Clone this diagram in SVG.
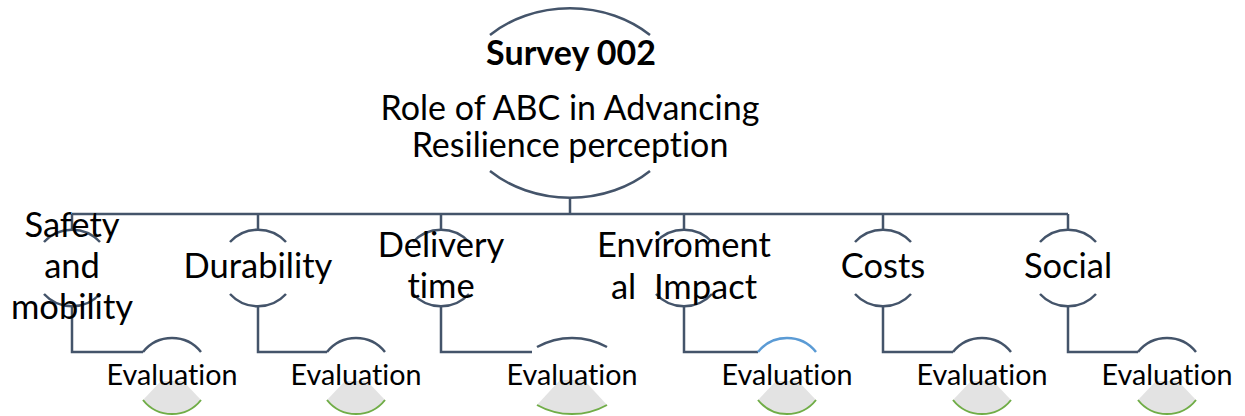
<svg xmlns="http://www.w3.org/2000/svg" width="1245" height="416" viewBox="0 0 1245 416">
  <style>
    .ln { fill: none; stroke: #44546a; stroke-width: 2.5; }
    .arc { fill: none; stroke: #44546a; stroke-width: 2.5; }
    .arcb { fill: none; stroke: #5b9bd5; stroke-width: 2.5; }
    .wedge { fill: #e3e3e3; stroke: none; }
    .rim { fill: none; stroke: #70ad47; stroke-width: 2; }
    text { font-family: Lato, "Liberation Sans", sans-serif; fill: #000; text-anchor: middle;
           font-variant-ligatures: none; font-feature-settings: "liga" 0, "clig" 0; }
    .ttl { font-size: 34px; font-weight: bold; }
    .sub { font-size: 34px; }
    .lbl { font-size: 34.5px; }
    .ev { font-size: 28.7px; }
  </style>

  <!-- connectors -->
  <g id="connectors">
    <path class="ln" d="M570,197 V214 M72,214 H1068"/>
    <path class="ln" d="M72,214 V230 M72,306 V352 H143"/>
    <path class="ln" d="M258,214 V230 M258,306 V352 H327"/>
    <path class="ln" d="M441,214 V230 M441,306 V352 H532"/>
    <path class="ln" d="M684,214 V230 M684,306 V352 H758"/>
    <path class="ln" d="M883,214 V230 M883,306 V352 H953"/>
    <path class="ln" d="M1068,214 V230 M1068,306 V352 H1138"/>
  </g>

  <!-- root -->
  <g id="root">
    <path class="arc" d="M490,35 A115,95 0 0 1 650,35"/>
    <path class="arc" d="M490,171 A115,95 0 0 0 650,171"/>
    <text class="ttl" x="571" y="65">Survey 002</text>
    <text class="sub" x="570" y="120">Role of ABC in Advancing</text>
    <text class="sub" x="570" y="157">Resilience perception</text>
  </g>

  <!-- first-level nodes -->
  <g id="safety">
    <path class="arc" d="M44,242 A38,38 0 0 1 100,242 M44,294 A38,38 0 0 0 100,294"/>
    <text class="lbl" x="72" y="237">Safety</text>
    <text class="lbl" x="72" y="278">and</text>
    <text class="lbl" x="72" y="319">mobility</text>
  </g>
  <g id="durability">
    <path class="arc" d="M230,242 A38,38 0 0 1 286,242 M230,294 A38,38 0 0 0 286,294"/>
    <text class="lbl" x="258" y="278">Durability</text>
  </g>
  <g id="delivery">
    <path class="arc" d="M413,242 A38,38 0 0 1 469,242 M413,294 A38,38 0 0 0 469,294"/>
    <text class="lbl" x="441" y="257">Delivery</text>
    <text class="lbl" x="441" y="298">time</text>
  </g>
  <g id="environment">
    <path class="arc" d="M656,242 A38,38 0 0 1 712,242 M656,294 A38,38 0 0 0 712,294"/>
    <text class="lbl" x="684" y="257">Enviroment</text>
    <text class="lbl" x="684" y="299" xml:space="preserve">al  Impact</text>
  </g>
  <g id="costs">
    <path class="arc" d="M855,242 A38,38 0 0 1 911,242 M855,294 A38,38 0 0 0 911,294"/>
    <text class="lbl" x="883" y="278">Costs</text>
  </g>
  <g id="social">
    <path class="arc" d="M1040,242 A38,38 0 0 1 1096,242 M1040,294 A38,38 0 0 0 1096,294"/>
    <text class="lbl" x="1068" y="278">Social</text>
  </g>

  <!-- evaluation nodes -->
  <g id="eval-safety">
    <path class="arc" d="M143,352 A37,37 0 0 1 201,352"/>
    <path class="wedge" d="M161,381 H183 L201,400 A37,37 0 0 1 143,400 Z"/>
    <path class="rim" d="M201,400 A37,37 0 0 1 143,400"/>
    <text class="ev" x="172" y="385">Evaluation</text>
  </g>
  <g id="eval-durability">
    <path class="arc" d="M327,352 A37,37 0 0 1 385,352"/>
    <path class="wedge" d="M345,381 H367 L385,400 A37,37 0 0 1 327,400 Z"/>
    <path class="rim" d="M385,400 A37,37 0 0 1 327,400"/>
    <text class="ev" x="356" y="385">Evaluation</text>
  </g>
  <g id="eval-delivery">
    <path class="arc" d="M537,347 A72,72 0 0 1 607,347"/>
    <path class="wedge" d="M560,380 H584 L607,405 A72,72 0 0 1 537,405 Z"/>
    <path class="rim" d="M607,405 A72,72 0 0 1 537,405"/>
    <text class="ev" x="572" y="385">Evaluation</text>
  </g>
  <g id="eval-environment">
    <path class="arcb" d="M758,352 A37,37 0 0 1 816,352"/>
    <path class="wedge" d="M776,381 H798 L816,400 A37,37 0 0 1 758,400 Z"/>
    <path class="rim" d="M816,400 A37,37 0 0 1 758,400"/>
    <text class="ev" x="787" y="385">Evaluation</text>
  </g>
  <g id="eval-costs">
    <path class="arc" d="M953,352 A37,37 0 0 1 1011,352"/>
    <path class="wedge" d="M971,381 H993 L1011,400 A37,37 0 0 1 953,400 Z"/>
    <path class="rim" d="M1011,400 A37,37 0 0 1 953,400"/>
    <text class="ev" x="982" y="385">Evaluation</text>
  </g>
  <g id="eval-social">
    <path class="arc" d="M1138,352 A37,37 0 0 1 1196,352"/>
    <path class="wedge" d="M1156,381 H1178 L1196,400 A37,37 0 0 1 1138,400 Z"/>
    <path class="rim" d="M1196,400 A37,37 0 0 1 1138,400"/>
    <text class="ev" x="1167" y="385">Evaluation</text>
  </g>
</svg>
